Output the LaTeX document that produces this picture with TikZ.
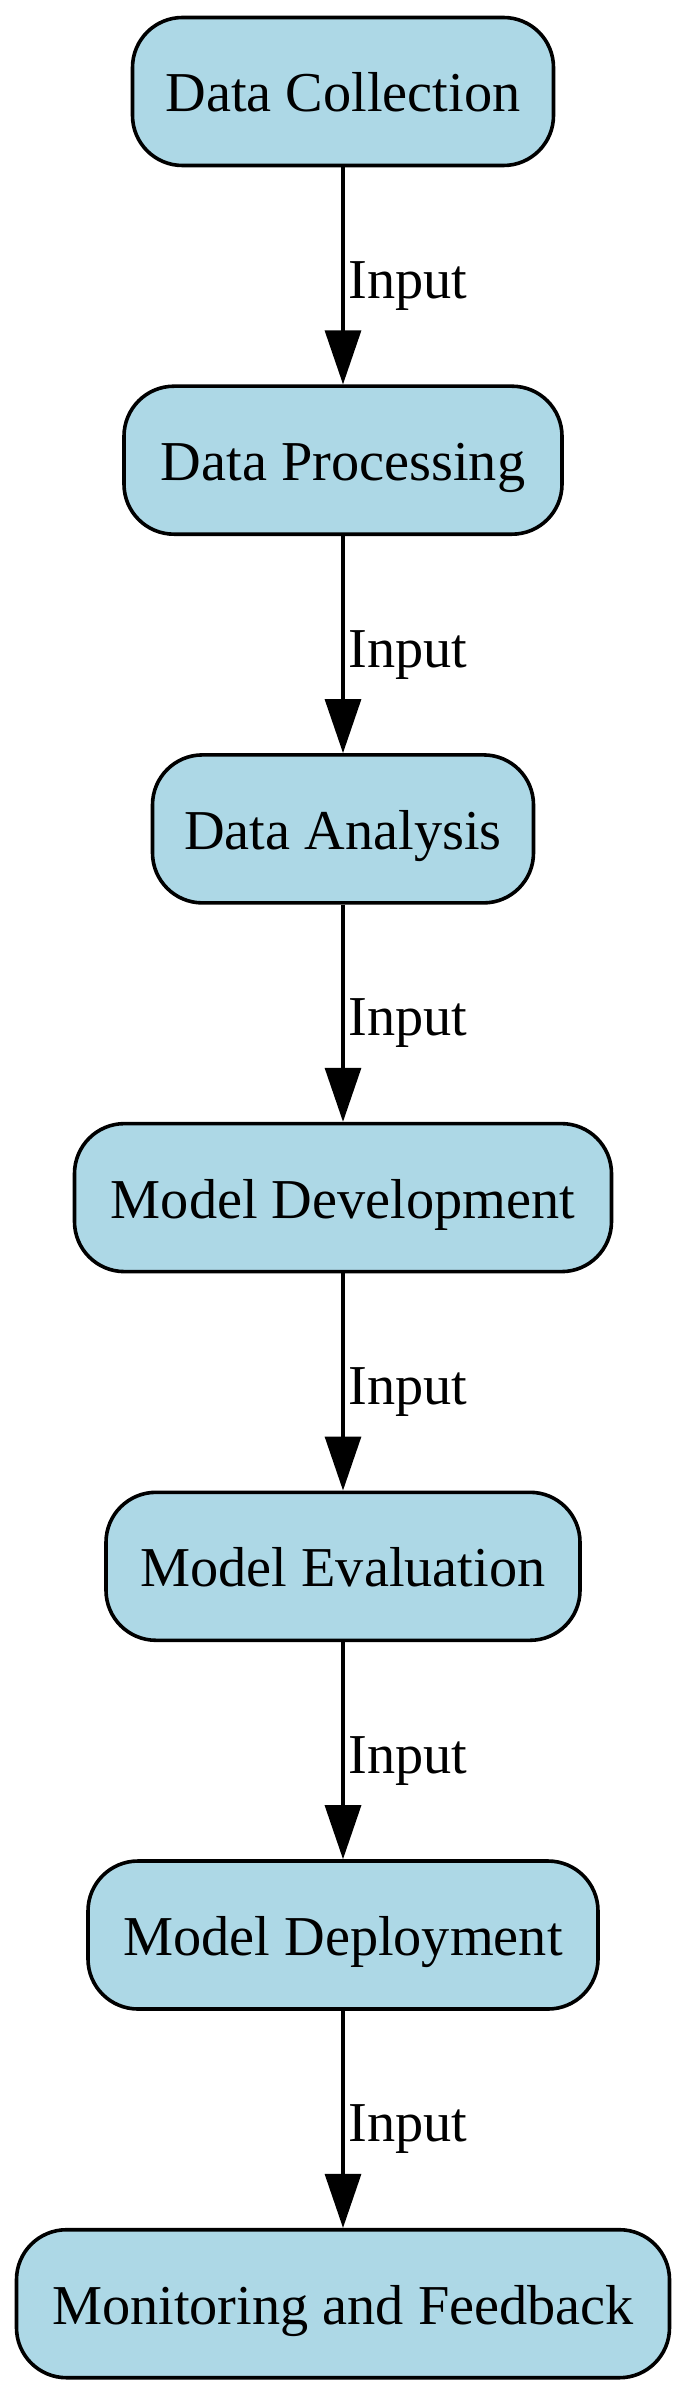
\documentclass[tikz,border=0pt]{standalone}
\usepackage{fontspec}
\setmainfont{Liberation Serif}
\usetikzlibrary{arrows.meta}
\definecolor{nodefill}{HTML}{ADD8E6}
\begin{document}
\begin{tikzpicture}[x=0.5pt,y=-0.5pt,
 box/.style={draw=black, fill=nodefill, line width=1.8pt, rounded corners=25pt,
   minimum height=74pt, inner sep=0pt, text height=20.5pt, text depth=0pt,
   font=\fontsize{28.15}{34}\selectfont},
 flow/.style={draw=black, line width=1.6pt, -{Triangle[length=27pt,width=18pt]}},
 lbl/.style={anchor=base west, inner sep=0pt, xshift=2pt, yshift=-11.25pt,
   font=\fontsize{28.15}{34}\selectfont}]
\useasboundingbox (0,0) rectangle (688,2396);
\node[box, minimum width=210.5pt] (n1) at (343,91.5) {Data Collection};
\node[box, minimum width=219pt] (n2) at (343,460.2) {Data Processing};
\node[box, minimum width=190.5pt] (n3) at (343,828.9) {Data Analysis};
\node[box, minimum width=268.5pt] (n4) at (343,1197.6) {Model Development};
\node[box, minimum width=237pt] (n5) at (343,1566.3) {Model Evaluation};
\node[box, minimum width=255pt] (n6) at (343,1935) {Model Deployment};
\node[box, minimum width=326.5pt] (n7) at (343,2303.7) {Monitoring and Feedback};
\draw[flow] (n1) -- (n2) node[lbl, pos=0.5] {Input};
\draw[flow] (n2) -- (n3) node[lbl, pos=0.5] {Input};
\draw[flow] (n3) -- (n4) node[lbl, pos=0.5] {Input};
\draw[flow] (n4) -- (n5) node[lbl, pos=0.5] {Input};
\draw[flow] (n5) -- (n6) node[lbl, pos=0.5] {Input};
\draw[flow] (n6) -- (n7) node[lbl, pos=0.5] {Input};
\end{tikzpicture}
\end{document}
